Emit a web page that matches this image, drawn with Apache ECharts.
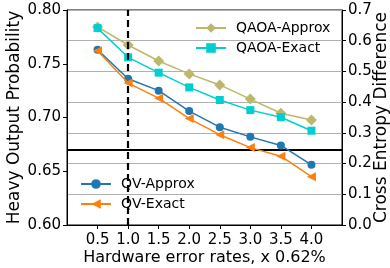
<!DOCTYPE html>
<html>
<head>
<meta charset="utf-8">
<script src="https://cdn.jsdelivr.net/npm/echarts@6/dist/echarts.min.js"></script>
<style>
  html, body { margin: 0; padding: 0; background: #fff; }
  #main { width: 390px; height: 268px; }
</style>
</head>
<body>
<div id="main"></div>
<script>
  // error rates (x 0.62%)
  var errRates = [0.5, 1.0, 1.5, 2.0, 2.5, 3.0, 3.5, 4.0];
  // heavy output probability (left axis)
  var qvApprox = [0.763, 0.736, 0.725, 0.706, 0.691, 0.682, 0.674, 0.656];
  var qvExact  = [0.762, 0.732, 0.718, 0.699, 0.684, 0.672, 0.664, 0.645];
  // cross entropy difference (right axis)
  var qaoaApprox = [0.645, 0.586, 0.534, 0.492, 0.456, 0.410, 0.364, 0.342];
  var qaoaExact  = [0.641, 0.546, 0.496, 0.448, 0.407, 0.374, 0.351, 0.307];
  var leftTicks = [0.60, 0.65, 0.70, 0.75, 0.80];
  var rightTicks = [0.0, 0.1, 0.2, 0.3, 0.4, 0.5, 0.6, 0.7];
  var heavyThreshold = 2 / 3;
  var refRate = 1.0;

  var font = 'DejaVu Sans';

  function pairs(xs, ys) {
    return xs.map(function (x, i) { return [x, ys[i]]; });
  }

  var chart = echarts.init(document.getElementById('main'), null, {renderer: 'canvas'});

  var legendCommon = {
    orient: 'vertical', padding: 0,
    itemWidth: 30, itemHeight: 12, itemGap: 6,
    textStyle: {fontFamily: font, fontSize: 14, color: '#000', padding: [0, 0, 0, 5]}
  };

  var option = {
    animation: false,
    backgroundColor: '#fff',
    grid: {
      left: 67, right: 48, top: 10, bottom: 43,
      outerBoundsMode: 'none', containLabel: false,
      show: true, borderColor: '#000', borderWidth: 1
    },
    legend: [
      Object.assign({data: ['QAOA-Approx', 'QAOA-Exact'], left: 195, top: 21}, legendCommon),
      Object.assign({data: ['QV-Approx', 'QV-Exact'], left: 80, top: 177}, legendCommon)
    ],
    xAxis: {
      type: 'value',
      min: 0, max: 4.5, interval: 0.5,
      name: 'Hardware error rates, x 0.62%',
      nameLocation: 'middle', nameGap: 25, nameMoveOverlap: false,
      nameTextStyle: {fontFamily: font, fontSize: 16, color: '#000'},
      axisLine: {show: true, lineStyle: {color: '#000', width: 1}},
      axisTick: {show: true, length: 4, customValues: errRates, lineStyle: {color: '#000'}},
      axisLabel: {
        fontFamily: font, fontSize: 15, color: '#000', margin: 8,
        customValues: errRates,
        formatter: function (v) { return v.toFixed(1); }
      },
      splitLine: {show: false}
    },
    yAxis: [
      {
        type: 'value',
        min: leftTicks[0], max: leftTicks[leftTicks.length - 1], interval: 0.05,
        name: 'Heavy Output Probability',
        nameLocation: 'middle', nameGap: 44, nameRotate: 90, nameMoveOverlap: false,
        nameTextStyle: {fontFamily: font, fontSize: 17, color: '#000'},
        axisLine: {show: true, lineStyle: {color: '#000'}},
        axisTick: {show: true, length: 4, lineStyle: {color: '#000'}},
        axisLabel: {
          fontFamily: font, fontSize: 15, color: '#000', margin: 6,
          formatter: function (v) { return v.toFixed(2); }
        },
        splitLine: {show: false}
      },
      {
        type: 'value',
        position: 'right',
        min: rightTicks[0], max: rightTicks[rightTicks.length - 1], interval: 0.1,
        name: 'Cross Entropy Difference',
        nameLocation: 'middle', nameGap: 31, nameRotate: 90, nameMoveOverlap: false,
        nameTextStyle: {fontFamily: font, fontSize: 17, color: '#000'},
        axisLine: {show: true, lineStyle: {color: '#000'}},
        axisTick: {show: true, length: 4, lineStyle: {color: '#000'}},
        axisLabel: {
          fontFamily: font, fontSize: 15, color: '#000', margin: 6,
          formatter: function (v) { return v.toFixed(1); }
        },
        splitLine: {show: true, lineStyle: {color: '#b0b0b0', width: 1}}
      }
    ],
    series: [
      {
        name: 'QAOA-Approx', type: 'line', yAxisIndex: 1,
        data: pairs(errRates, qaoaApprox),
        color: '#bdb76b', symbol: 'diamond', symbolSize: 11,
        lineStyle: {width: 1.5}, z: 3
      },
      {
        name: 'QAOA-Exact', type: 'line', yAxisIndex: 1,
        data: pairs(errRates, qaoaExact),
        color: '#00ced1', symbol: 'rect', symbolSize: 8,
        lineStyle: {width: 1.5}, z: 4
      },
      {
        name: 'QV-Approx', type: 'line', yAxisIndex: 0,
        data: pairs(errRates, qvApprox),
        color: '#1f77b4', symbol: 'circle', symbolSize: 8,
        lineStyle: {width: 1.5}, z: 5,
        markLine: {
          silent: true, symbol: 'none', label: {show: false},
          lineStyle: {color: '#000', width: 2, type: 'solid'},
          data: [{yAxis: heavyThreshold}]
        }
      },
      {
        name: 'QV-Exact', type: 'line', yAxisIndex: 0,
        data: pairs(errRates, qvExact),
        color: '#ff7f0e', symbol: 'triangle', symbolRotate: 90, symbolSize: 9,
        lineStyle: {width: 1.5}, z: 6,
        markLine: {
          silent: true, symbol: 'none', label: {show: false},
          lineStyle: {color: '#000', width: 2.2, type: [7, 4]},
          data: [{xAxis: refRate}]
        }
      }
    ]
  };

  chart.setOption(option);
</script>
</body>
</html>
